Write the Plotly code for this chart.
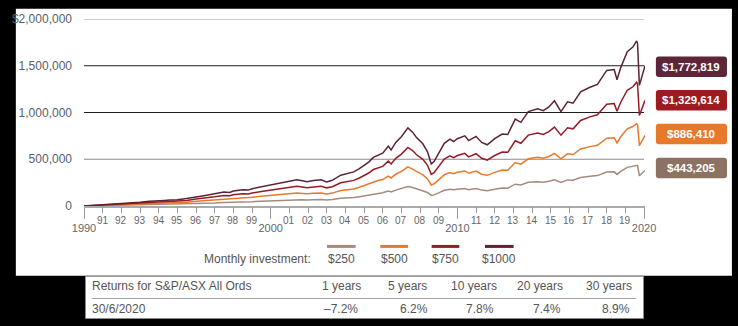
import plotly.graph_objects as go

# ---------------- data ----------------
years = [1990.0, 1990.5, 1991.0, 1991.5, 1992.0, 1992.5, 1993.0, 1993.5, 1994.0, 1994.3, 1994.6,
         1995.0, 1995.5, 1996.0, 1996.5, 1997.0, 1997.5, 1997.8, 1998.0, 1998.5, 1998.8, 1999.0,
         1999.5, 2000.0, 2000.4, 2000.75, 2001.1, 2001.4, 2001.7, 2001.95, 2002.3, 2002.7, 2003.0,
         2003.3, 2003.75, 2004.1, 2004.45, 2004.75, 2005.0, 2005.25, 2005.5, 2005.75, 2006.0,
         2006.3, 2006.45, 2006.7, 2007.0, 2007.35, 2007.6, 2007.8, 2008.0, 2008.15, 2008.4, 2008.6,
         2008.75, 2009.0, 2009.3, 2009.6, 2009.8, 2010.0, 2010.4, 2010.6, 2011.0, 2011.3, 2011.6,
         2012.0, 2012.4, 2012.7, 2013.1, 2013.4, 2013.8, 2014.3, 2014.6, 2014.9, 2015.2, 2015.55,
         2015.9, 2016.2, 2016.6, 2017.1, 2017.5, 2018.0, 2018.4, 2018.55, 2018.75, 2019.1, 2019.4,
         2019.6, 2019.65, 2019.75, 2019.85, 2020.05]

# values in thousands of dollars
inv_1000 = [0, 6, 12, 20, 27, 32, 40, 52, 62, 60, 64, 66, 80, 100, 112, 130, 150, 145, 160, 175, 170, 185,
            205, 225, 240, 260, 268, 280, 270, 260, 272, 280, 258, 275, 330, 345, 365, 400, 435, 470, 520,
            545, 565, 640, 600, 680, 740, 835, 790, 735, 700, 665, 580, 450, 475, 560, 670, 715, 690, 720,
            750, 700, 745, 680, 655, 720, 770, 765, 930, 895, 1010, 1040, 1020, 1060, 1125, 1010, 1115,
            1100, 1220, 1270, 1300, 1450, 1460, 1350, 1480, 1650, 1700, 1765, 1740, 1290, 1360, 1500]
inv_750 = [0, 5, 9, 15, 20, 24, 30, 39, 47, 45, 48, 50, 60, 75, 84, 98, 113, 109, 120, 131, 128, 139,
           154, 169, 180, 195, 201, 210, 203, 195, 204, 210, 194, 206, 248, 259, 274, 300, 326, 353, 390,
           409, 424, 480, 450, 510, 555, 626, 593, 551, 525, 499, 435, 338, 356, 420, 503, 536, 518, 540,
           563, 525, 559, 510, 491, 540, 578, 574, 698, 671, 758, 780, 765, 795, 844, 758, 836,
           825, 915, 953, 975, 1088, 1095, 1013, 1110, 1238, 1275, 1324, 1305, 968, 1020, 1130]
inv_500 = [0, 3, 6, 10, 14, 16, 20, 26, 31, 30, 32, 33, 40, 50, 56, 65, 75, 73, 80, 88, 85, 93,
           103, 113, 120, 130, 134, 140, 135, 130, 136, 140, 129, 138, 165, 173, 183, 200, 218, 235, 260,
           273, 283, 320, 300, 340, 370, 418, 395, 368, 350, 333, 290, 225, 238, 280, 335, 358, 345, 360,
           375, 350, 373, 340, 328, 360, 385, 383, 465, 448, 505, 520, 510, 530, 563, 505, 558,
           550, 610, 635, 650, 725, 730, 675, 740, 825, 850, 880, 870, 645, 680, 755]
inv_250 = [0, 2, 3, 5, 7, 8, 10, 13, 16, 15, 16, 17, 20, 25, 28, 33, 38, 36, 40, 44, 43, 46,
           51, 56, 60, 65, 67, 70, 68, 65, 68, 70, 65, 69, 83, 86, 91, 100, 109, 118, 130,
           136, 141, 160, 150, 170, 185, 209, 198, 184, 175, 166, 145, 113, 119, 140, 168, 179, 173, 180,
           188, 175, 186, 170, 164, 180, 193, 191, 233, 224, 253, 260, 255, 265, 281, 253, 279,
           275, 305, 318, 325, 363, 365, 338, 370, 413, 425, 440, 435, 323, 340, 380]

series_names = ["$250", "$500", "$750", "$1000"]
series_vals = [inv_250, inv_500, inv_750, inv_1000]
series_colors = ["#a68b7d", "#e8792b", "#951c24", "#5c2337"]
final_values = [443205, 886410, 1329614, 1772819]
box_colors = ["#8c7262", "#e8782a", "#9b1b20", "#5e2438"]

y_tickvals = [0, 500000, 1000000, 1500000, 2000000]
y_ticktext = ["0", "500,000", "1,000,000", "1,500,000", "$2,000,000"]
decades = [1990, 2000, 2010, 2020]
minor_years = [y for y in range(1991, 2020) if y % 10 != 0]
minor_labels = ["%02d" % (y % 100) for y in minor_years]

table_title = "Returns for S&P/ASX All Ords"
table_date = "30/6/2020"
periods = ["1 years", "5 years", "10 years", "20 years", "30 years"]
returns = ["\u20137.2%", "6.2%", "7.8%", "7.4%", "8.9%"]

# ---------------- layout geometry (pixels) ----------------
FW, FH = 738, 326
L, R, T, B = 77, 645, 14.5, 206.5
W, H = R - L, B - T


def px(x):
    return (x - L) / W


def py(y):
    return (B - y) / H


def rounded_rect(x0, y0, x1, y1, r=3):
    a, b, c, d = px(x0), px(x1), py(y0), py(y1)
    rx, ry = r / W, r / H
    return (f"M{a+rx},{c} L{b-rx},{c} Q{b},{c} {b},{c-ry} L{b},{d+ry} Q{b},{d} {b-rx},{d} "
            f"L{a+rx},{d} Q{a},{d} {a},{d+ry} L{a},{c-ry} Q{a},{c} {a+rx},{c} Z")


SANS = "Liberation Sans, Arial, sans-serif"
TXT = "#555"

fig = go.Figure()
for name, vals, col in zip(series_names, series_vals, series_colors):
    fig.add_trace(go.Scatter(x=years, y=[v * 1000 for v in vals], mode="lines", name=name,
                             line=dict(color=col, width=1.5), hoverinfo="skip", showlegend=False))
# carrier for the year-tick axis
fig.add_trace(go.Scatter(x=[1990], y=[0], xaxis="x2", mode="markers", marker=dict(opacity=0),
                         hoverinfo="skip", showlegend=False))

shapes = []
# white panel and table box
shapes.append(dict(type="rect", xref="paper", yref="paper", x0=px(8), x1=px(733), y0=py(278), y1=py(4),
                   fillcolor="white", line=dict(width=0), layer="below"))
shapes.append(dict(type="rect", xref="paper", yref="paper", x0=px(78.5), x1=px(643.5), y0=py(322), y1=py(278.5),
                   fillcolor="white", line=dict(color="#8a8a8a", width=1), layer="below"))
shapes.append(dict(type="line", xref="paper", yref="paper", x0=px(85), x1=px(636), y0=py(301.5), y1=py(301.5),
                   line=dict(color="#a0a0a0", width=1), layer="below"))
# gridlines
grid_styles = {500000: "#8c8c8c", 1000000: "#1e1e1e", 1500000: "#1e1e1e", 2000000: "#9a9a9a"}
for v, c in grid_styles.items():
    shapes.append(dict(type="line", xref="paper", yref="y", x0=0, x1=px(644), y0=v, y1=v,
                       line=dict(color=c, width=1), layer="below"))

annotations = []
# year labels between decades
for yv, lab in zip(minor_years, minor_labels):
    annotations.append(dict(xref="x", yref="paper", x=yv, y=py(221), text=lab, showarrow=False,
                            xanchor="center", yanchor="middle",
                            font=dict(family=SANS, size=10, color="#666")))

# legend swatches
legend_x = [(323, 352), (377, 405), (429, 457), (483, 512)]
for (x0, x1), col, name in zip(legend_x, series_colors, series_names):
    shapes.append(dict(type="line", xref="paper", yref="paper", x0=px(x0), x1=px(x1), y0=py(248), y1=py(248),
                       line=dict(color=col, width=3)))
    annotations.append(dict(xref="paper", yref="paper", x=px((x0 + x1) / 2), y=py(261), text=name,
                            showarrow=False, xanchor="center", yanchor="middle",
                            font=dict(family=SANS, size=12, color=TXT)))
annotations.append(dict(xref="paper", yref="paper", x=px(309), y=py(261), text="Monthly investment:",
                        showarrow=False, xanchor="right", yanchor="middle",
                        font=dict(family=SANS, size=12, color=TXT)))

# value boxes
box_y = [167.5, 132.5, 98, 63.5]
for val, col, yc in zip(final_values, box_colors, box_y):
    shapes.append(dict(type="path", xref="paper", yref="paper", path=rounded_rect(656, yc - 10.5, 728, yc + 10.5),
                       fillcolor=col, line=dict(width=0)))
    annotations.append(dict(xref="paper", yref="paper", x=px(692), y=py(yc), text="<b>${:,}</b>".format(val),
                            showarrow=False, xanchor="center", yanchor="middle",
                            font=dict(family=SANS, size=11.5, color="white")))

# table text
annotations.append(dict(xref="paper", yref="paper", x=px(83), y=py(289), text=table_title, showarrow=False,
                        xanchor="left", yanchor="middle", font=dict(family=SANS, size=12, color=TXT)))
annotations.append(dict(xref="paper", yref="paper", x=px(83), y=py(312), text=table_date, showarrow=False,
                        xanchor="left", yanchor="middle", font=dict(family=SANS, size=12, color=TXT)))
col_right = [359, 426, 497, 564, 634]
val_right = [356, 427, 494, 562, 632]
for p, r, xr, xv in zip(periods, returns, col_right, val_right):
    annotations.append(dict(xref="paper", yref="paper", x=px(xr), y=py(289), text=p, showarrow=False,
                            xanchor="right", yanchor="middle", font=dict(family=SANS, size=12, color=TXT)))
    annotations.append(dict(xref="paper", yref="paper", x=px(xv), y=py(312), text=r, showarrow=False,
                            xanchor="right", yanchor="middle", font=dict(family=SANS, size=12, color=TXT)))

xrange = [1990, 2020.05]
fig.update_layout(
    width=FW, height=FH,
    margin=dict(l=L, r=FW - R, t=T, b=FH - B, pad=0),
    paper_bgcolor="black", plot_bgcolor="rgba(0,0,0,0)",
    showlegend=False,
    xaxis=dict(range=xrange, tickmode="array", tickvals=decades, ticktext=[str(d) for d in decades],
               ticks="outside", ticklen=11, tickwidth=1, tickcolor="#999",
               showgrid=False, zeroline=False, showline=True, linecolor="#aaa", linewidth=2,
               tickfont=dict(family=SANS, size=11, color="#666"), ticklabelstandoff=0, fixedrange=True),
    xaxis2=dict(range=xrange, overlaying="x", anchor="y", side="bottom", tickmode="array",
                tickvals=minor_years, ticks="outside", ticklen=6, tickwidth=1,
                tickcolor="#999", showgrid=False, zeroline=False, showline=False,
                showticklabels=False, fixedrange=True),
    yaxis=dict(range=[0, 2000000], tickmode="array", tickvals=y_tickvals, ticktext=y_ticktext,
               showgrid=False, zeroline=False, showline=False, ticks="",
               tickfont=dict(family=SANS, size=12, color="#56606b"), ticklabelstandoff=11, fixedrange=True),
    shapes=shapes, annotations=annotations,
)

fig.write_html("out.html")
